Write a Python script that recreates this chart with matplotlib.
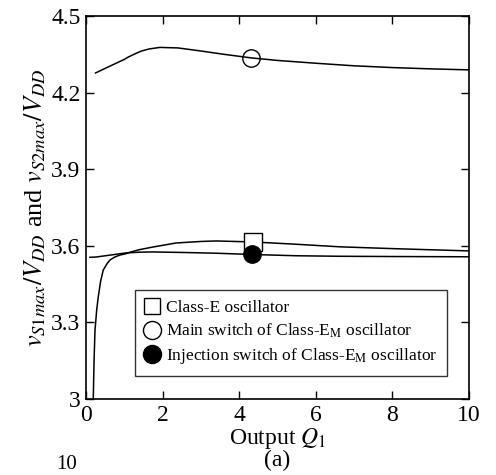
import matplotlib
matplotlib.use("Agg")
import matplotlib.pyplot as plt
from matplotlib.lines import Line2D

plt.rcParams['font.family'] = ['Liberation Serif', 'DejaVu Serif']
plt.rcParams['mathtext.fontset'] = 'stix'

# Class-E oscillator: peak switch voltage vs. output Q
q_classe = [0.19, 0.21, 0.235, 0.28, 0.32, 0.38, 0.45, 0.55, 0.63, 0.75, 0.89,
            1.04, 1.15, 1.40, 1.74, 2.35, 3.0, 3.39, 4.37, 5.5, 6.63, 8.0, 10.0]
v_classe = [3.00, 3.15, 3.27, 3.35, 3.40, 3.46, 3.505, 3.53, 3.545, 3.556, 3.564,
            3.569, 3.575, 3.585, 3.595, 3.611, 3.617, 3.619, 3.615, 3.606, 3.596, 3.589, 3.580]

# Class-E_M oscillator, main switch
q_main = [0.25, 0.6, 1.0, 1.1, 1.28, 1.45, 1.65, 1.93, 2.4, 3.0, 3.6, 4.31, 5.0, 6.0,
          7.0, 8.0, 9.0, 10.0]
v_main = [4.277, 4.302, 4.330, 4.339, 4.352, 4.363, 4.371, 4.377, 4.375, 4.363, 4.350,
          4.336, 4.326, 4.315, 4.305, 4.298, 4.293, 4.289]

# Class-E_M oscillator, injection switch
q_inj = [0.10, 0.26, 0.6, 1.04, 1.4, 1.74, 2.5, 3.39, 4.33, 5.5, 6.63, 8.0, 10.0]
v_inj = [3.555, 3.556, 3.563, 3.572, 3.575, 3.576, 3.574, 3.571, 3.566, 3.561, 3.559, 3.558, 3.557]

# Marker positions (design points at Q1 = 4.3)
mark_q = [4.37, 4.31, 4.33]
mark_v = [3.615, 4.334, 3.566]

legend_labels = ['Class-E oscillator',
                 r'Main switch of Class-E$_{\mathrm{M}}$ oscillator',
                 r'Injection switch of Class-E$_{\mathrm{M}}$ oscillator']

x_ticks = [0, 2, 4, 6, 8, 10]
x_ticklabels = ['0', '2', '4', '6', '8', '10']
y_ticks = [3.0, 3.3, 3.6, 3.9, 4.2, 4.5]
y_ticklabels = ['3', '3.3', '3.6', '3.9', '4.2', '4.5']

fig = plt.figure(figsize=(4.96, 4.75), dpi=100)
ax = fig.add_axes([0.1734, 0.16, 0.7722, 0.8063])

lw = 1.1
ax.plot(q_classe, v_classe, color='black', lw=lw)
ax.plot(q_main, v_main, color='black', lw=lw)
ax.plot(q_inj, v_inj, color='black', lw=lw)

ms = 12.5
ax.plot(mark_q[0], mark_v[0], marker='s', ms=ms, mfc='white', mec='black', mew=1.0, ls='none', zorder=3)
ax.plot(mark_q[1], mark_v[1], marker='o', ms=ms, mfc='none', mec='black', mew=1.0, ls='none', zorder=3)
ax.plot(mark_q[2], mark_v[2], marker='o', ms=ms, mfc='black', mec='black', mew=1.0, ls='none', zorder=4)

ax.set_xlim(0, 10)
ax.set_ylim(3.0, 4.5)
ax.set_xticks(x_ticks)
ax.set_xticklabels(x_ticklabels)
ax.set_yticks(y_ticks)
ax.set_yticklabels(y_ticklabels)
ax.tick_params(direction='in', length=6, width=1.0, top=True, right=True,
               labelsize=17, pad=4)
for s in ax.spines.values():
    s.set_linewidth(1.2)

ax.set_xlabel('Output $Q_1$\n(a)', fontsize=17, labelpad=0, linespacing=0.95)
ax.set_ylabel(r'$v_{S1max}/V_{DD}$ and $v_{S2max}/V_{DD}$', fontsize=19, labelpad=2)

handles = [
    Line2D([], [], marker='s', ms=12, mfc='white', mec='black', mew=1.0, ls='none'),
    Line2D([], [], marker='o', ms=13, mfc='white', mec='black', mew=1.0, ls='none'),
    Line2D([], [], marker='o', ms=13, mfc='black', mec='black', mew=1.0, ls='none'),
]
leg = ax.legend(handles, legend_labels, loc='lower left', bbox_to_anchor=(0.128, 0.06),
                fontsize=12.5, frameon=True, fancybox=False, edgecolor='black',
                handlelength=0.8, handletextpad=0.45, borderpad=0.55, labelspacing=0.35,
                borderaxespad=0)
leg.get_frame().set_linewidth(1.0)

# Tick label of the neighbouring panel below this one
fig.text(0.135, 0.003, '10', fontsize=15, ha='center', va='bottom')

fig.savefig('out.png', dpi=100)
